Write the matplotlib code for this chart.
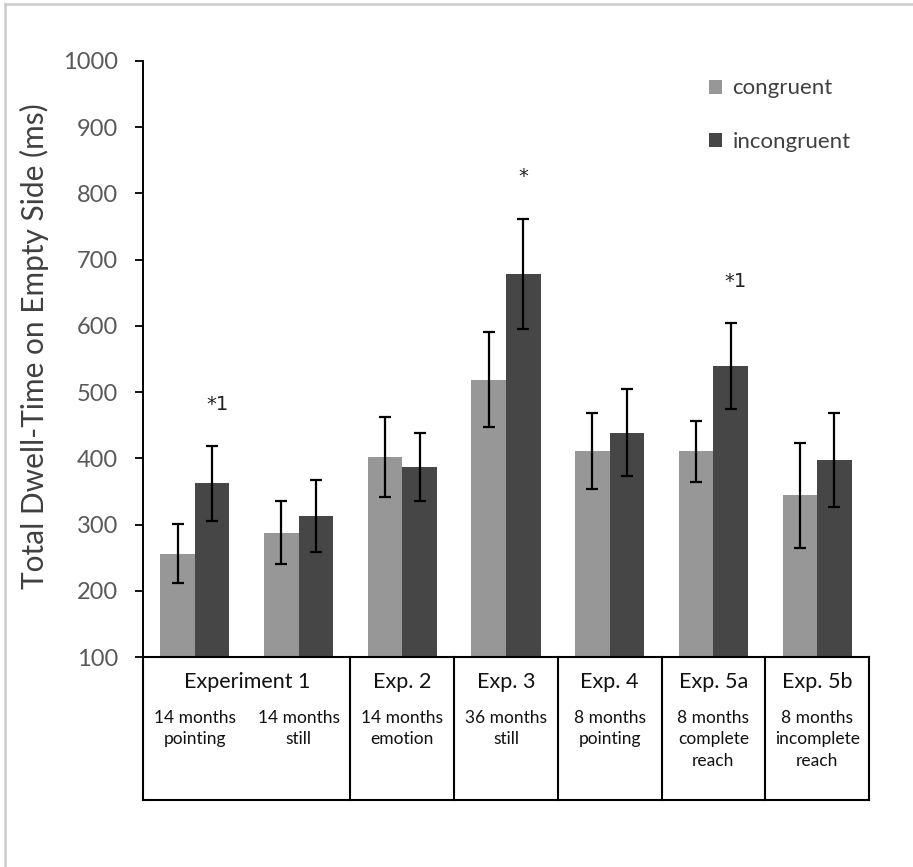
import matplotlib
matplotlib.use("Agg")
import matplotlib.pyplot as plt
import numpy as np
from matplotlib.lines import Line2D
from matplotlib.patches import Patch

plt.rcParams['font.family'] = ['Lato', 'DejaVu Sans']

# ---- data ----
conditions = ["14 months\npointing", "14 months\nstill", "14 months\nemotion",
              "36 months\nstill", "8 months\npointing", "8 months\ncomplete\nreach",
              "8 months\nincomplete\nreach"]
congruent = [256, 288, 402, 519, 411, 411, 344]
congruent_err = [45, 47, 61, 72, 58, 46, 79]
incongruent = [362, 313, 387, 679, 439, 539, 397]
incongruent_err = [56, 54, 51, 83, 65, 65, 71]
experiments = ["Experiment 1", "Exp. 2", "Exp. 3", "Exp. 4", "Exp. 5a", "Exp. 5b"]
experiment_spans = [(0, 1), (2, 2), (3, 3), (4, 4), (5, 5), (6, 6)]
annotations = {0: "*1", 3: "*", 5: "*1"}
series_names = ["congruent", "incongruent"]
yticks = [100, 200, 300, 400, 500, 600, 700, 800, 900, 1000]

c_cong = "#979797"
c_incong = "#464646"

W, H = 913, 867
fig = plt.figure(figsize=(W / 100, H / 100), dpi=100)
ax = fig.add_axes([143 / W, 1 - 657 / H, (869 - 143) / W, (657 - 61) / H])

x = np.arange(len(conditions))
bw = 0.333
ax.bar(x - bw / 2, congruent, bw, color=c_cong, zorder=2)
ax.bar(x + bw / 2, incongruent, bw, color=c_incong, zorder=2)
ekw = dict(fmt='none', ecolor='black', elinewidth=1.6, capsize=4, capthick=1.6, zorder=3)
ax.errorbar(x - bw / 2, congruent, yerr=congruent_err, **ekw)
ax.errorbar(x + bw / 2, incongruent, yerr=incongruent_err, **ekw)

# significance markers above incongruent error bar
for i, txt in annotations.items():
    top = incongruent[i] + incongruent_err[i]
    ax.text(x[i] + bw / 2 + (0.05 if len(txt) > 1 else 0), top + 63, txt,
            ha='center', va='center', fontsize=14, color='#222222',
            family=['DejaVu Sans'])

ax.set_ylim(100, 1000)
ax.set_xlim(-0.5, len(conditions) - 0.5)
ax.set_yticks(yticks)
ax.tick_params(axis='y', direction='out', length=6, width=1.3, labelsize=17,
               labelcolor='#595959', pad=12)
ax.set_xticks([])
for s in ['top', 'right', 'bottom']:
    ax.spines[s].set_visible(False)
ax.spines['left'].set_linewidth(1.4)
ax.set_ylabel("Total Dwell-Time on Empty Side (ms)", fontsize=21.5, color='#404040')
ax.yaxis.set_label_coords(-0.13, 0.522)

# ---- table below the axis ----
tr = ax.get_xaxis_transform()
tb = (657 - 800) / 596.0
lw = 1.5
ax.plot([-0.5, 6.5], [0, 0], color='black', lw=lw, transform=tr, clip_on=False, zorder=5)
ax.plot([-0.5, 6.5], [tb, tb], color='black', lw=lw, transform=tr, clip_on=False)
bounds = [-0.5] + [s[1] + 0.5 for s in experiment_spans]
for b in bounds:
    ax.plot([b, b], [0, tb], color='black', lw=lw, transform=tr, clip_on=False)
for name, (a, b) in zip(experiments, experiment_spans):
    ax.text((a + b) / 2, (657 - 682) / 596.0, name, ha='center', va='center',
            fontsize=15.5, color='#111111', transform=tr)
for i, c in enumerate(conditions):
    ax.text(x[i], (657 - 710) / 596.0, c, ha='center', va='top', fontsize=12.5,
            color='#111111', transform=tr, linespacing=1.42)

# ---- legend ----
handles = [Patch(facecolor=c_cong, edgecolor='none'), Patch(facecolor=c_incong, edgecolor='none')]
leg = ax.legend(handles, series_names, loc='upper left', bbox_to_anchor=(0.749, 1.008),
                frameon=False, fontsize=16, handlelength=0.6, handleheight=0.6,
                handletextpad=0.45, labelspacing=1.5, borderaxespad=0.6)
for t in leg.get_texts():
    t.set_color('#404040')

# ---- figure border ----
fig.add_artist(Line2D([4.5 / W, 4.5 / W], [0, 1 - 3.5 / H], color='#cccccc', lw=1.8))
fig.add_artist(Line2D([4.5 / W, 1], [1 - 3.5 / H, 1 - 3.5 / H], color='#cccccc', lw=1.8))

fig.savefig("out.png", dpi=100)
